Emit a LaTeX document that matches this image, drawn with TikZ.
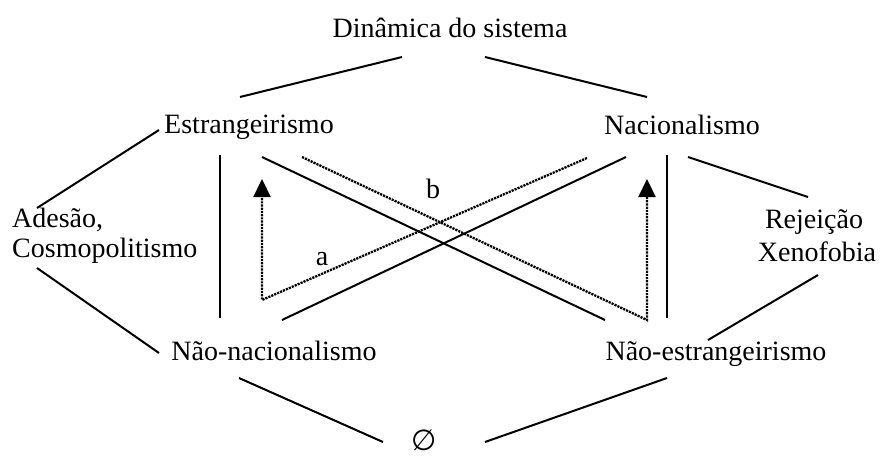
\documentclass[tikz,border=0pt]{standalone}
\usepackage{fontspec}
\setmainfont{Liberation Serif}
\newfontfamily\symfont{DejaVu Sans}
\usetikzlibrary{arrows.meta}
\begin{document}
\begin{tikzpicture}[x=1pt,y=-1pt,
  lbl/.style={inner sep=0pt, anchor=base, font=\fontsize{28}{32}\selectfont},
  ln/.style={line width=2pt},
  dl/.style={line width=2.3pt, dash pattern=on 2.2pt off 1pt},
  tip/.style={-{Triangle[width=17pt,length=18pt]}},
  ]
\useasboundingbox (0,0) rectangle (881,459);
% labels
\node[lbl] (din) at (450,37) {Dinâmica do sistema};
\node[lbl] (est) at (249,133) {Estrangeirismo};
\node[lbl] (nac) at (682,134) {Nacionalismo};
\node[lbl,anchor=base west] (ades) at (12,227) {Adesão,};
\node[lbl,anchor=base west] (cosm) at (12,257) {Cosmopolitismo};
\node[lbl] (rej) at (814,228) {Rejeição};
\node[lbl] (xen) at (817,261) {Xenofobia};
\node[lbl] (nnac) at (274,360) {Não-nacionalismo};
\node[lbl] (nest) at (716,360) {Não-estrangeirismo};
\node[lbl,font=\fontsize{29}{32}\symfont,text height=20pt,text depth=2pt] (empty) at (424,450) {∅};
\node[lbl] (la) at (322,265) {a};
\node[lbl] (lb) at (433,198) {b};
% connector ends
\coordinate (d1) at (402,57);  \coordinate (e1) at (240,97);
\coordinate (d2) at (485,57);  \coordinate (n1) at (647,97);
\coordinate (e2) at (159,130); \coordinate (a1) at (37,208);
\coordinate (n2) at (688,157); \coordinate (r1) at (808,197);
\coordinate (a2) at (37,268);  \coordinate (nn1) at (159,353);
\coordinate (r2) at (818,275); \coordinate (ne1) at (708,340);
\coordinate (nn2) at (239,378); \coordinate (o1) at (383,442);
\coordinate (ne2) at (667,378); \coordinate (o2) at (485,442);
\coordinate (e3) at (220,155); \coordinate (nn3) at (220,318);
\coordinate (n3) at (667,155); \coordinate (ne3) at (667,318);
\coordinate (e4) at (262,157); \coordinate (ne4) at (605,320);
\coordinate (nn4) at (282,320); \coordinate (n4) at (626,157);
\coordinate (e5) at (302,157); \coordinate (bc) at (647,320); \coordinate (bt) at (647,179);
\coordinate (n5) at (587,158); \coordinate (ac) at (262,300); \coordinate (at) at (262,179);
% solid lines
\draw[ln] (d1) -- (e1);
\draw[ln] (d2) -- (n1);
\draw[ln] (e2) -- (a1);
\draw[ln] (n2) -- (r1);
\draw[ln] (a2) -- (nn1);
\draw[ln] (r2) -- (ne1);
\draw[ln] (nn2) -- (o1);
\draw[ln] (ne2) -- (o2);
\draw[ln] (e3) -- (nn3);
\draw[ln] (n3) -- (ne3);
\draw[ln] (e4) -- (ne4);
\draw[ln] (nn4) -- (n4);
% dotted arrows
\draw[dl,tip] (e5) -- (bc) -- (bt);
\draw[dl,tip] (n5) -- (ac) -- (at);
\end{tikzpicture}
\end{document}
